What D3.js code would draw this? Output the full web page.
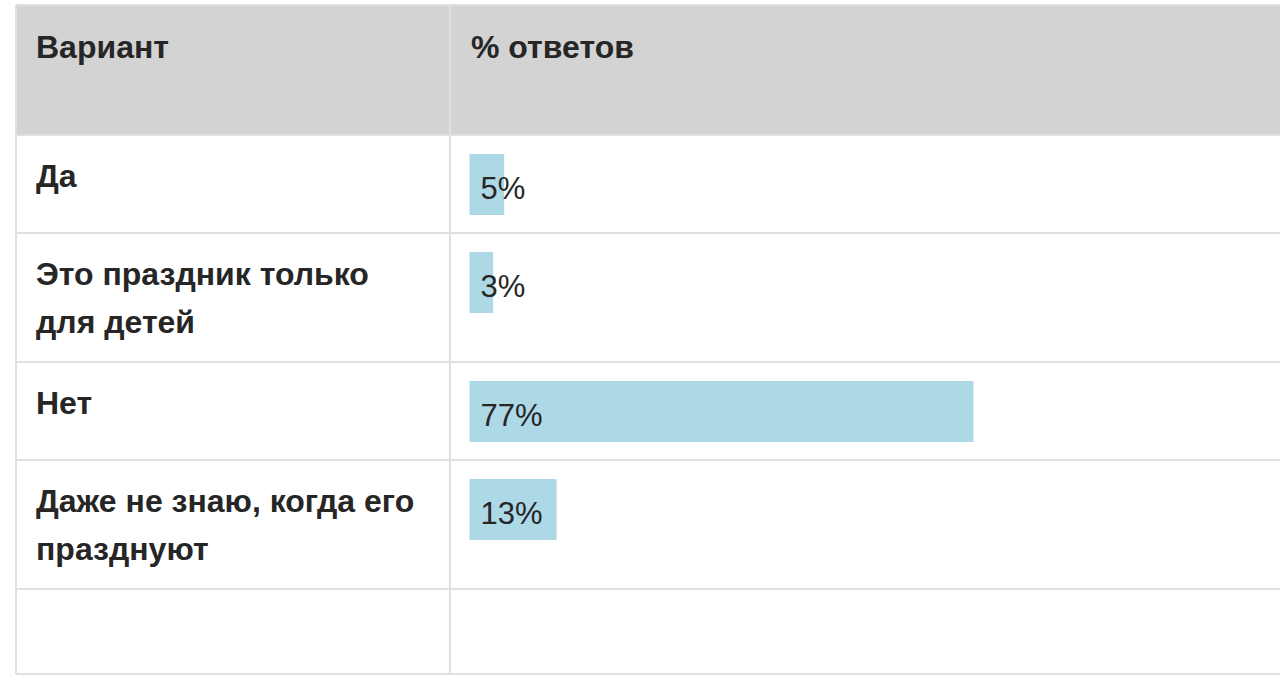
<!DOCTYPE html>
<html>
<head>
<meta charset="utf-8">
<script src="https://cdn.jsdelivr.net/npm/d3@7/dist/d3.min.js"></script>
<style>
  html, body { margin: 0; padding: 0; background: #fff; }
  svg { display: block; }
  text { font-family: "Liberation Sans", Arial, sans-serif; }
</style>
</head>
<body>
<svg id="chart" width="1280" height="687"></svg>
<script>
// ---- data ----
const headers = ["Вариант", "% ответов"];
const categories = [
  ["Да"],
  ["Это праздник только", "для детей"],
  ["Нет"],
  ["Даже не знаю, когда его", "празднуют"],
  []
];
const values = [5.3, 3.6, 77, 13.3, null];
const valueLabels = ["5%", "3%", "77%", "13%", ""];

// ---- layout ----
(function () {
const svg = d3.select("#chart");
const tLeft = 16, tTop = 5, tRight = 1300;
const colX = 450;
const headerH = 130;
const fontSize = 32, valueFontSize = 31, lineH = 48;
const borderColor = "#e0e0e0";
const textColor = "#262626";

const rowHeights = categories.map(c => {
  if (c.length === 0) return 85;
  return c.length > 1 ? 129 : 98;
});
const rowY = [];
let acc = tTop + headerH;
rowHeights.forEach(h => { rowY.push(acc); acc += h; });
const tBottom = acc;

const x = d3.scaleLinear().domain([0, 100]).range([0, 654.5]);
const barX = 469.5, barOff = 19, barH = 61;

svg.append("rect").attr("x", tLeft).attr("y", tTop)
  .attr("width", tRight - tLeft).attr("height", headerH).attr("fill", "#d3d3d3");

svg.selectAll("text.h").data(headers).join("text")
  .attr("class", "h")
  .attr("x", (d, i) => i === 0 ? 36 : 471)
  .attr("y", tTop + 53)
  .attr("font-size", fontSize).attr("font-weight", "bold")
  .attr("fill", textColor).text(d => d);

const rows = svg.selectAll("g.row").data(categories.map((c, i) => ({c, v: values[i], l: valueLabels[i], i})))
  .join("g")
  .attr("class", "row")
  .attr("transform", d => `translate(0,${rowY[d.i]})`);

rows.filter(d => d.v != null).append("rect")
  .attr("x", barX).attr("y", barOff)
  .attr("width", d => x(d.v))
  .attr("height", barH).attr("fill", "#add8e6");

rows.each(function (d) {
  const g = d3.select(this);
  g.selectAll("text.cat").data(d.c).join("text")
    .attr("class", "cat")
    .attr("x", 36).attr("y", (t, j) => 52 + j * lineH)
    .attr("font-size", fontSize).attr("font-weight", "bold")
    .attr("fill", textColor).text(t => t);
  if (d.v != null) {
    g.append("text").attr("x", barX + 11).attr("y", barOff + 45)
      .attr("font-size", valueFontSize).attr("fill", textColor)
      .text(d.l);
  }
});

const hLines = [tTop, tTop + headerH, ...rowY.slice(1), tBottom];
svg.selectAll("line.hl").data(hLines).join("line")
  .attr("class", "hl")
  .attr("x1", tLeft).attr("x2", tRight)
  .attr("y1", d => d).attr("y2", d => d)
  .attr("stroke", borderColor).attr("stroke-width", 2);
svg.selectAll("line.vl").data([tLeft, colX]).join("line")
  .attr("class", "vl")
  .attr("x1", d => d).attr("x2", d => d)
  .attr("y1", tTop).attr("y2", tBottom)
  .attr("stroke", borderColor).attr("stroke-width", 2);
})();
</script>
</body>
</html>
